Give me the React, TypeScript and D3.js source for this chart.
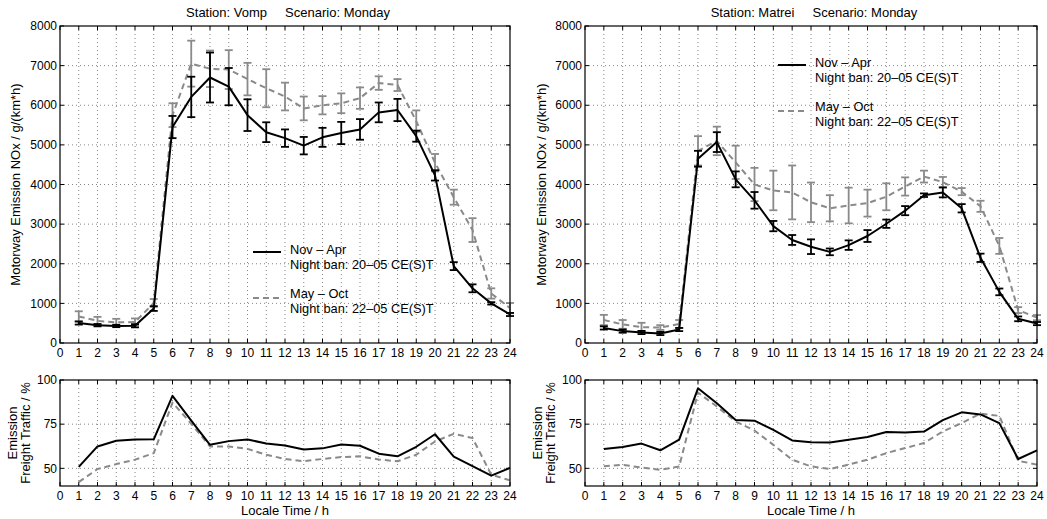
import React from "react";
import * as d3 from "d3";

const hours = [1, 2, 3, 4, 5, 6, 7, 8, 9, 10, 11, 12, 13, 14, 15, 16, 17, 18, 19, 20, 21, 22, 23, 24];
const xTicks = [0, 1, 2, 3, 4, 5, 6, 7, 8, 9, 10, 11, 12, 13, 14, 15, 16, 17, 18, 19, 20, 21, 22, 23, 24];
const topTicks = [0, 1000, 2000, 3000, 4000, 5000, 6000, 7000, 8000];
const bottomTicks = [50, 75, 100];

const stations = ["Vomp", "Matrei"];
const legendWinter = ["Nov \u2013 Apr", "Night ban: 20\u201305 CE(S)T"];
const legendSummer = ["May \u2013 Oct", "Night ban: 22\u201305 CE(S)T"];

// Vomp – NOx emission (mean and error half-width)
const vompWinterMean = [505, 450, 430, 435, 870, 5450, 6210, 6700, 6470, 5750, 5320, 5170, 4980, 5190, 5300, 5390, 5820, 5880, 5220, 4230, 1940, 1380, 1000, 720];
const vompWinterErr = [40, 30, 30, 40, 60, 280, 510, 630, 470, 400, 250, 220, 220, 240, 280, 260, 250, 280, 140, 130, 100, 100, 30, 40];
const vompSummerMean = [670, 560, 520, 530, 1010, 5750, 7050, 6920, 6900, 6660, 6430, 6220, 5920, 6000, 6050, 6180, 6560, 6510, 5600, 4550, 3680, 2850, 1250, 880];
const vompSummerErr = [130, 100, 90, 90, 100, 300, 580, 460, 490, 410, 480, 350, 300, 230, 250, 270, 170, 150, 270, 220, 190, 300, 130, 130];

// Matrei – NOx emission
const matreiWinterMean = [380, 300, 265, 240, 340, 4650, 5070, 4130, 3600, 2950, 2600, 2430, 2300, 2470, 2700, 3010, 3340, 3730, 3800, 3400, 2150, 1290, 610, 490];
const matreiWinterErr = [40, 40, 40, 40, 40, 200, 250, 200, 210, 130, 125, 185, 85, 120, 150, 105, 115, 45, 125, 105, 105, 85, 60, 40];
const matreiSummerMean = [580, 470, 400, 390, 480, 4850, 5100, 4560, 4000, 3850, 3800, 3550, 3400, 3470, 3530, 3690, 3950, 4200, 4060, 3820, 3450, 2450, 830, 640];
const matreiSummerErr = [130, 110, 110, 60, 100, 370, 360, 420, 420, 500, 680, 500, 330, 450, 340, 340, 230, 150, 130, 90, 140, 200, 75, 65];

// Freight traffic share of emission (%)
const vompFreightWinter = [50.8, 62.4, 65.6, 66.3, 66.4, 91, 77, 63.3, 65.4, 66.3, 64.1, 62.9, 60.7, 61.3, 63.5, 62.8, 58.3, 56.8, 62.2, 69.3, 56.6, 51.3, 45.9, 50.3];
const vompFreightSummer = [42.2, 49.6, 52.4, 54.9, 58.6, 87.2, 75.2, 62.4, 62.4, 61.0, 57.7, 55.3, 54.0, 55.3, 56.4, 56.8, 55.0, 54.0, 57.7, 65.2, 69.5, 67.2, 46.4, 43.2];
const matreiFreightWinter = [60.9, 62.1, 64.0, 60.2, 66.2, 95.3, 86.8, 77.4, 77.0, 71.8, 65.8, 64.8, 64.6, 66.2, 67.7, 70.6, 70.3, 70.8, 77.3, 81.7, 80.5, 75.6, 55.3, 60.2];
const matreiFreightSummer = [51.2, 52.0, 50.4, 49.2, 51.0, 92.9, 85.0, 76.5, 71.4, 63.3, 54.9, 51.1, 49.6, 52.1, 54.9, 58.6, 61.5, 64.3, 70.9, 75.6, 81.0, 79.7, 54.3, 52.1];

const FONT = "'Liberation Sans', Arial, Helvetica, sans-serif";
const GRAY = "#8a8a8a";
const GRID = "#666";
const TICK_FS = 12;
const LABEL_FS = 13;

type Frame = { x0: number; x1: number; y0: number; y1: number };

function Axes({ f, yTicks, yDomain, xLabelY, gridYs }: { f: Frame; yTicks: number[]; yDomain: [number, number]; xLabelY: number; gridYs: number[] }) {
  const x = d3.scaleLinear().domain([0, 24]).range([f.x0, f.x1]);
  const y = d3.scaleLinear().domain(yDomain).range([f.y1, f.y0]);
  const tl = 4;
  return (
    <g>
      {xTicks.slice(1, 24).map((t) => (
        <line key={"gx" + t} x1={x(t)} x2={x(t)} y1={f.y0} y2={f.y1} stroke={GRID} strokeWidth={0.8} strokeDasharray="1,3" />
      ))}
      {gridYs.map((t) => (
        <line key={"gy" + t} x1={f.x0} x2={f.x1} y1={y(t)} y2={y(t)} stroke={GRID} strokeWidth={0.8} strokeDasharray="1,3" />
      ))}
      {xTicks.map((t) => (
        <g key={"tx" + t}>
          <line x1={x(t)} x2={x(t)} y1={f.y1} y2={f.y1 - tl} stroke="#000" strokeWidth={1} />
          <line x1={x(t)} x2={x(t)} y1={f.y0} y2={f.y0 + tl} stroke="#000" strokeWidth={1} />
          <text x={x(t)} y={xLabelY} dy="0.35em" textAnchor="middle" fontSize={TICK_FS} fontFamily={FONT} fill="#000">{t}</text>
        </g>
      ))}
      {yTicks.map((t) => (
        <g key={"ty" + t}>
          <line x1={f.x0} x2={f.x0 + tl} y1={y(t)} y2={y(t)} stroke="#000" strokeWidth={1} />
          <line x1={f.x1} x2={f.x1 - tl} y1={y(t)} y2={y(t)} stroke="#000" strokeWidth={1} />
          <text x={f.x0 - 3} y={y(t)} dy="0.35em" textAnchor="end" fontSize={TICK_FS} fontFamily={FONT} fill="#000">{t}</text>
        </g>
      ))}
    </g>
  );
}

function Series({ f, mean, err, color, dashed, yDomain }: { f: Frame; mean: number[]; err?: number[]; color: string; dashed: boolean; yDomain: [number, number] }) {
  const x = d3.scaleLinear().domain([0, 24]).range([f.x0, f.x1]);
  const y = d3.scaleLinear().domain(yDomain).range([f.y1, f.y0]);
  const line = d3.line<number>().x((_, i) => x(hours[i])).y((d) => y(d));
  const cap = 4;
  return (
    <g>
      <path d={line(mean) || ""} fill="none" stroke={color} strokeWidth={2} strokeDasharray={dashed ? "6,4" : undefined} strokeLinejoin="round" />
      {err &&
        mean.map((m, i) => {
          const xi = x(hours[i]);
          const yt = y(m + err[i]);
          const yb = y(m - err[i]);
          return (
            <g key={i} stroke={color} strokeWidth={1.8}>
              <line x1={xi} x2={xi} y1={yt} y2={yb} />
              <line x1={xi - cap} x2={xi + cap} y1={yt} y2={yt} />
              <line x1={xi - cap} x2={xi + cap} y1={yb} y2={yb} />
            </g>
          );
        })}
    </g>
  );
}

function Legend({ lx, ly }: { lx: number; ly: number }) {
  return (
    <g fontFamily={FONT} fontSize={12.8} fill="#000">
      <line x1={lx} x2={lx + 28} y1={ly + 2} y2={ly + 2} stroke="#000" strokeWidth={2} />
      <text x={lx + 37} y={ly} dy="0.35em">{legendWinter[0]}</text>
      <text x={lx + 37} y={ly + 15} dy="0.35em">{legendWinter[1]}</text>
      <line x1={lx} x2={lx + 28} y1={ly + 48} y2={ly + 48} stroke={GRAY} strokeWidth={2} strokeDasharray="6,4" />
      <text x={lx + 37} y={ly + 44} dy="0.35em">{legendSummer[0]}</text>
      <text x={lx + 37} y={ly + 59} dy="0.35em">{legendSummer[1]}</text>
    </g>
  );
}

export default function App() {
  const topL: Frame = { x0: 60, x1: 510, y0: 26, y1: 343 };
  const topR: Frame = { x0: 585, x1: 1037, y0: 26, y1: 343 };
  const botL: Frame = { x0: 60, x1: 510, y0: 380, y1: 486 };
  const botR: Frame = { x0: 585, x1: 1037, y0: 380, y1: 486 };
  const topDom: [number, number] = [0, 8000];
  const botDom: [number, number] = [40, 100];

  const panels = [
    { top: topL, bot: botL, wm: vompWinterMean, we: vompWinterErr, sm: vompSummerMean, se: vompSummerErr, fw: vompFreightWinter, fs: vompFreightSummer, st: stations[0], leg: [253, 250], ylx: 15, elx: 12 },
    { top: topR, bot: botR, wm: matreiWinterMean, we: matreiWinterErr, sm: matreiSummerMean, se: matreiSummerErr, fw: matreiFreightWinter, fs: matreiFreightSummer, st: stations[1], leg: [778, 63], ylx: 541, elx: 537 },
  ];

  return (
    <svg width={1047} height={519} style={{ position: "absolute", left: 0, top: 0, background: "#fff" }}>
      <rect x={0} y={0} width={1047} height={519} fill="#fff" />
      {panels.map((p, k) => (
        <g key={k}>
          <Axes f={p.top} yTicks={topTicks} yDomain={topDom} xLabelY={353} gridYs={[1000, 2000, 3000, 4000, 5000, 6000, 7000]} />
          <Series f={p.top} mean={p.sm} err={p.se} color={GRAY} dashed={true} yDomain={topDom} />
          <Series f={p.top} mean={p.wm} err={p.we} color="#000" dashed={false} yDomain={topDom} />
          <rect x={p.top.x0} y={p.top.y0} width={p.top.x1 - p.top.x0} height={p.top.y1 - p.top.y0} fill="none" stroke="#000" strokeWidth={1.2} />
          <Legend lx={p.leg[0]} ly={p.leg[1]} />
          <text x={(p.top.x0 + p.top.x1) / 2 + 3} y={12} dy="0.35em" textAnchor="middle" fontSize={LABEL_FS} fontFamily={FONT}>
            {"Station: " + p.st + "\u00a0\u00a0\u00a0\u00a0\u00a0Scenario: Monday"}
          </text>
          <text transform={`translate(${p.ylx},${(p.top.y0 + p.top.y1) / 2}) rotate(-90)`} textAnchor="middle" dy="0.35em" fontSize={LABEL_FS} fontFamily={FONT}>
            Motorway Emission NOx / g/(km*h)
          </text>

          <Axes f={p.bot} yTicks={bottomTicks} yDomain={botDom} xLabelY={496} gridYs={[50, 75]} />
          <Series f={p.bot} mean={p.fs} color={GRAY} dashed={true} yDomain={botDom} />
          <Series f={p.bot} mean={p.fw} color="#000" dashed={false} yDomain={botDom} />
          <rect x={p.bot.x0} y={p.bot.y0} width={p.bot.x1 - p.bot.x0} height={p.bot.y1 - p.bot.y0} fill="none" stroke="#000" strokeWidth={1.2} />
          <text transform={`translate(${p.elx},${(p.bot.y0 + p.bot.y1) / 2}) rotate(-90)`} textAnchor="middle" dy="0.35em" fontSize={LABEL_FS} fontFamily={FONT}>
            Emission
          </text>
          <text transform={`translate(${p.elx + 13},${(p.bot.y0 + p.bot.y1) / 2}) rotate(-90)`} textAnchor="middle" dy="0.35em" fontSize={LABEL_FS} fontFamily={FONT}>
            Freight Traffic / %
          </text>
          <text x={(p.bot.x0 + p.bot.x1) / 2} y={510} dy="0.35em" textAnchor="middle" fontSize={LABEL_FS} fontFamily={FONT}>
            Locale Time / h
          </text>
        </g>
      ))}
    </svg>
  );
}
